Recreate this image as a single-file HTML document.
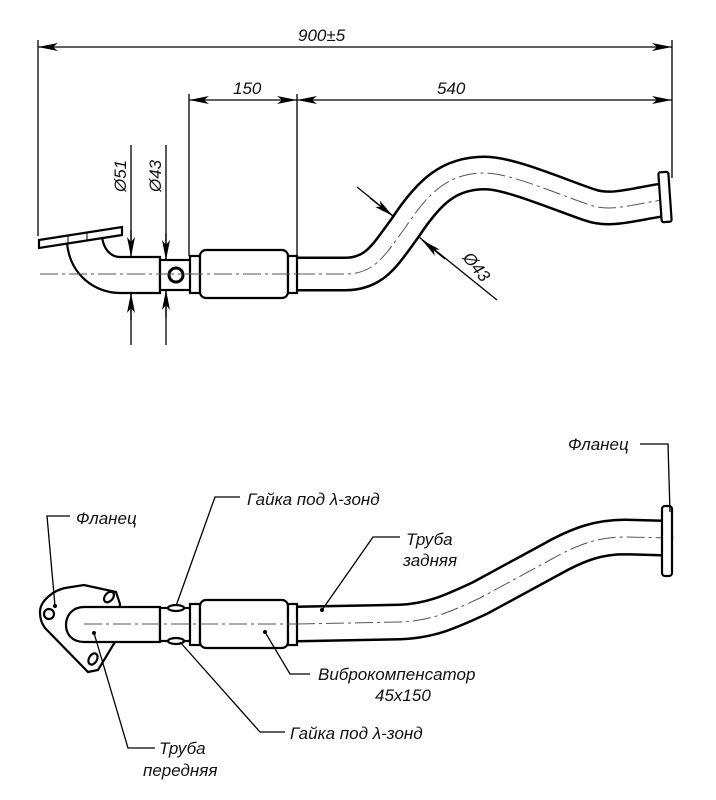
<!DOCTYPE html>
<html><head><meta charset="utf-8"><style>
html,body{margin:0;padding:0;background:#fff;}
svg{display:block;}
text{font-family:"Liberation Sans","DejaVu Sans",sans-serif;font-style:italic;fill:#111;}
</style></head><body>
<svg width="716" height="800" viewBox="0 0 716 800" xmlns="http://www.w3.org/2000/svg">
<defs>
<marker id="a" viewBox="0 0 20 8" refX="20" refY="4" markerWidth="20" markerHeight="8" orient="auto-start-reverse" markerUnits="userSpaceOnUse">
<path d="M0 0 L20 4 L0 8 L5 4 Z" fill="#000"/></marker>
</defs>
<g stroke="#000" fill="none" stroke-width="1.3">
<line x1="38" y1="40" x2="38" y2="236"/>
<line x1="672" y1="40" x2="672" y2="178"/>
<line x1="38" y1="47" x2="672" y2="47" marker-start="url(#a)" marker-end="url(#a)"/>
<line x1="189" y1="94" x2="189" y2="256"/>
<line x1="297" y1="94" x2="297" y2="256"/>
<line x1="189" y1="100" x2="297" y2="100" marker-start="url(#a)" marker-end="url(#a)"/>
<line x1="297" y1="100" x2="672" y2="100" marker-start="url(#a)" marker-end="url(#a)"/>
<line x1="131" y1="145" x2="131" y2="345"/>
<line x1="166" y1="145" x2="166" y2="345"/>
<line x1="131" y1="230" x2="131" y2="257" marker-end="url(#a)"/>
<line x1="131" y1="320" x2="131" y2="293" marker-end="url(#a)"/>
<line x1="166" y1="233" x2="166" y2="260" marker-end="url(#a)"/>
<line x1="166" y1="317" x2="166" y2="290" marker-end="url(#a)"/>
<line x1="357" y1="187" x2="497" y2="300"/>
<line x1="370" y1="198" x2="393" y2="216" marker-end="url(#a)"/>
<line x1="445" y1="259" x2="422" y2="240" marker-end="url(#a)"/>
</g>
<text x="298" y="41" font-size="17">900±5</text>
<text x="233" y="94" font-size="17">150</text>
<text x="437" y="94" font-size="17">540</text>
<text transform="translate(126,192) rotate(-90)" font-size="17">Ø51</text>
<text transform="translate(161,192) rotate(-90)" font-size="17">Ø43</text>
<text transform="translate(462,258) rotate(51)" font-size="17">Ø43</text>

<g stroke="#000" stroke-width="2.2" fill="#fff">
<path d="M297 274 L345 274 C375 274,385 255,405 228 C430 190,450 173,485 173 C510 173,560 195,590 205 C610 212,630 205,662 200" stroke-width="35" fill="none"/>
<path d="M297 274 L345 274 C375 274,385 255,405 228 C430 190,450 173,485 173 C510 173,560 195,590 205 C610 212,630 205,662 200" stroke="#fff" stroke-width="30" fill="none"/>
<path d="M297 274 L345 274 C375 274,385 255,405 228 C430 190,450 173,485 173 C510 173,560 195,590 205 C610 212,630 205,662 200" stroke="#555" stroke-width="1" stroke-dasharray="18 4 3 4" fill="none"/>
<rect x="660" y="172" width="10" height="50" rx="2" transform="rotate(-4 665 197)"/>
<path d="M67 243 C70 275,95 293,120 293 L160 293 L160 257 L120 257 C110 257,103 248,102 236 Z"/>
<polygon points="39,240 122,227 122,235 39,248"/>
<line x1="68" y1="236" x2="68" y2="244" stroke-width="1"/>
<line x1="87" y1="233" x2="87" y2="241" stroke-width="1"/>
<rect x="160" y="260" width="32" height="30"/>
<circle cx="176" cy="275" r="7" stroke-width="3"/>
<rect x="190" y="256" width="10" height="37"/>
<rect x="200" y="250" width="88" height="48" rx="6"/>
<rect x="288" y="256" width="9" height="37"/>
<line x1="40" y1="274" x2="300" y2="274" stroke="#555" stroke-width="1" stroke-dasharray="18 4 3 4"/>
</g>

<g stroke="#000" stroke-width="2.2" fill="#fff">
<path d="M297 624 L400 622 C430 621,450 612,480 598 L550 560 C580 543,600 537,625 537 L662 538" stroke-width="37" fill="none"/>
<path d="M297 624 L400 622 C430 621,450 612,480 598 L550 560 C580 543,600 537,625 537 L662 538" stroke="#fff" stroke-width="32" fill="none"/>
<path d="M297 624 L400 622 C430 621,450 612,480 598 L550 560 C580 543,600 537,625 537 L675 538" stroke="#555" stroke-width="1" stroke-dasharray="18 4 3 4" fill="none"/>
<rect x="662" y="506" width="10" height="70" rx="3"/>
<path d="M40 612 C40 600,55 590,65 588 L84 585 L116 592 L120 604 L115 642 L98 670 L88 672 L45 628 C41 622,40 618,40 612 Z"/>
<circle cx="49" cy="614" r="5"/>
<ellipse cx="109" cy="597" rx="4" ry="6" transform="rotate(40 109 597)"/>
<ellipse cx="93" cy="659" rx="4" ry="6" transform="rotate(30 93 659)"/>
<path d="M160 607 L84 607 C72 607,66 616,66 625 C66 634,72 642,84 642 L160 642 Z"/>
<rect x="160" y="608" width="32" height="33"/>
<ellipse cx="176" cy="608" rx="8" ry="3"/>
<ellipse cx="176" cy="641" rx="8" ry="3"/>
<rect x="190" y="604" width="10" height="41"/>
<rect x="200" y="600" width="88" height="48" rx="6"/>
<rect x="288" y="604" width="9" height="41"/>
<line x1="84" y1="624" x2="300" y2="624" stroke="#555" stroke-width="1" stroke-dasharray="18 4 3 4"/>
</g>
<g stroke="#000" stroke-width="1.3" fill="none">
<polyline points="70,516 47,516 55,606"/>
<polyline points="240,497 215,497 176,606"/>
<polyline points="400,537 373,537 322,610"/>
<polyline points="640,444 668,444 670,512"/>
<polyline points="310,674 290,674 265,632"/>
<polyline points="285,732 260,732 180,642"/>
<polyline points="155,748 128,748 94,633"/>
</g>
<g fill="#000"><circle cx="55" cy="606" r="2"/><circle cx="322" cy="610" r="2"/><circle cx="265" cy="632" r="2"/><circle cx="94" cy="633" r="2"/></g>
<text x="76" y="524" font-size="17">Фланец</text>
<text x="247" y="505" font-size="17">Гайка под λ-зонд</text>
<text x="406" y="545" font-size="17">Труба</text>
<text x="403" y="566" font-size="17">задняя</text>
<text x="568" y="450" font-size="17">Фланец</text>
<text x="318" y="680" font-size="17">Виброкомпенсатор</text>
<text x="375" y="701" font-size="17">45x150</text>
<text x="290" y="739" font-size="17">Гайка под λ-зонд</text>
<text x="159" y="754" font-size="17">Труба</text>
<text x="143" y="776" font-size="17">передняя</text>
</svg>
</body></html>
